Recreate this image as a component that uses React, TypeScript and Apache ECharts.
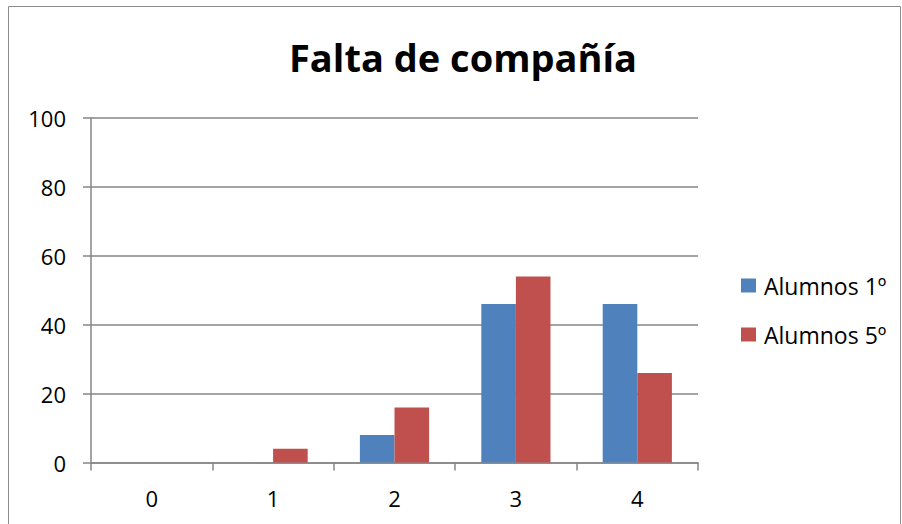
import React, { useEffect, useRef } from "react";
import * as echarts from "echarts";

const title = "Falta de compañía";
const categories = ["0", "1", "2", "3", "4"];
const seriesNames = ["Alumnos 1º", "Alumnos 5º"];
const alumnos1 = [0, 0, 8, 46, 46];
const alumnos5 = [0, 4, 16, 54, 26];
const colors = ["#4F81BD", "#C0504D"];

const FONT = "'Open Sans', sans-serif";

export default function App() {
  const ref = useRef<HTMLDivElement>(null);
  useEffect(() => {
    if (!ref.current) return;
    const chart = echarts.init(ref.current, undefined, { renderer: "svg" });
    chart.setOption({
      animation: false,
      backgroundColor: "#ffffff",
      textStyle: { fontFamily: FONT },
      graphic: [
        {
          type: "rect",
          shape: { x: 8.5, y: 6.5, width: 892, height: 530 },
          style: { fill: "none", stroke: "#8c8c8c", lineWidth: 1 },
          silent: true,
        },
        {
          type: "text",
          x: 463,
          y: 57,
          style: {
            text: title,
            fontFamily: FONT,
            fontWeight: "bold",
            fontSize: 38,
            fill: "#000",
            textAlign: "center",
            textVerticalAlign: "middle",
          },
        },
      ],
      legend: {
        orient: "vertical",
        left: 741,
        top: 274,
        itemWidth: 15,
        itemHeight: 14,
        itemGap: 26,
        icon: "rect",
        textStyle: {
          fontFamily: FONT,
          fontSize: 23,
          lineHeight: 22,
          color: "#000",
          padding: [0, 0, 0, 3],
        },
        data: seriesNames,
        padding: 0,
      },
      grid: { left: 91, right: 204, top: 118, bottom: 61.5 },
      xAxis: {
        type: "category",
        data: categories,
        axisLine: { lineStyle: { color: "#868686", width: 1.5 } },
        axisTick: { show: true, length: 8, lineStyle: { color: "#868686", width: 1.5 } },
        axisLabel: { fontFamily: FONT, fontSize: 22, color: "#000", margin: 24 },
      },
      yAxis: {
        type: "value",
        min: 0,
        max: 100,
        interval: 20,
        axisLine: { show: true, lineStyle: { color: "#868686", width: 1.5 } },
        axisTick: { show: true, length: 8, lineStyle: { color: "#868686", width: 1.5 } },
        splitLine: { show: true, lineStyle: { color: "#868686", width: 1.5 } },
        axisLabel: { fontFamily: FONT, fontSize: 22, color: "#000", margin: 25 },
      },
      series: [
        {
          name: seriesNames[0],
          type: "bar",
          data: alumnos1,
          itemStyle: { color: colors[0] },
          barGap: "0%",
          barCategoryGap: "43%",
        },
        {
          name: seriesNames[1],
          type: "bar",
          data: alumnos5,
          itemStyle: { color: colors[1] },
          barGap: "0%",
          barCategoryGap: "43%",
        },
      ],
    });
    return () => chart.dispose();
  }, []);
  return (
    <div
      ref={ref}
      style={{ position: "absolute", left: 0, top: 0, width: 902, height: 524 }}
    />
  );
}
